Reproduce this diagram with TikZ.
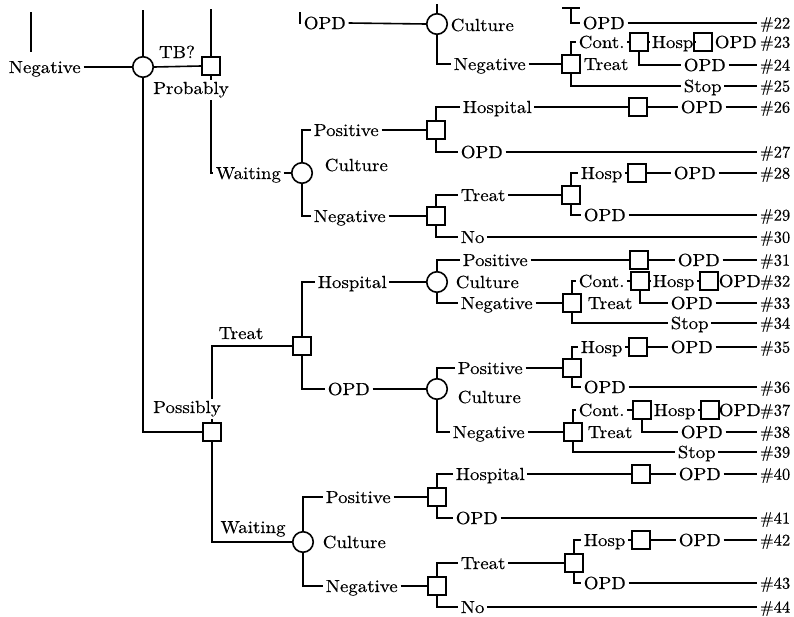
\documentclass[tikz,border=0pt]{standalone}
\usepackage{fontspec}
\newfontfamily\lblfam{lmroman10-regular}[Extension=.otf, FakeStretch=1.08, FakeBold=0.4]
\newfontfamily\numfam{lmroman10-regular}[Extension=.otf, FakeBold=0.4]
\newcommand\lblf{\lblfam\fontsize{17.5}{20}\selectfont}
\newcommand\numf{\numfam\fontsize{16.5}{20}\selectfont}
\tikzset{
 dec/.style={draw, rectangle, minimum size=18pt, inner sep=0pt, fill=white},
 chn/.style={draw, circle, minimum size=20.5pt, inner sep=0pt, fill=white},
 lbl/.style={inner xsep=2pt, inner ysep=1pt, text height=12pt, text depth=0pt, font=\lblf},
 lw/.style={lbl, anchor=west},
 nw/.style={lbl, font=\numf, anchor=east, text height=11.3pt},
 cover/.style={lbl, fill=white, text depth=4pt, inner ysep=2pt},
}
\begin{document}
\begin{tikzpicture}[x=1pt,y=-1pt,line width=1.6pt]
\useasboundingbox (0,0) rectangle (794,616);
% ---------- left part
\coordinate (t0a) at (30.7,12); \coordinate (t0b) at (30.7,52);
\node[lw] (negA) at (6,67) {Negative};
\node[chn] (c0) at (143,67) {};
\coordinate (c0top) at (143,10);
\node[dec] (bProb) at (211,66) {};
\coordinate (bProbtop) at (211,9);
\node[lbl] (tb) at (177,52) {TB?};
\node[lw] (waitW1) at (213,173) {Waiting};
\node[chn] (cW1) at (302,173) {};
\node[lw] (posW1) at (311,130) {Positive};
\node[lw] (culW1) at (322,165) {Culture};
\node[lw] (negW1) at (311,216) {Negative};
\node[dec] (bW1p) at (436,130) {};
\node[dec] (bW1n) at (436,216) {};
\node[lw] (hospW1) at (460,107) {Hospital};
\node[lw] (opdW1) at (458,152) {OPD};
\node[dec] (b26) at (638,107) {};
\node[lw] (opd26) at (678,107) {OPD};
\node[nw] (n26) at (793,107) {\#26};
\node[nw] (n27) at (793,152) {\#27};
\node[lw] (treatW1) at (458,195) {Treat};
\node[lw] (noW1) at (458,237) {No};
\node[dec] (b28a) at (571,195) {};
\node[lw] (hosp28) at (578,173) {Hosp};
\node[dec] (b28) at (637,173) {};
\node[lw] (opd28) at (671,173) {OPD};
\node[nw] (n28) at (793,173) {\#28};
\node[lw] (opd29) at (581,215) {OPD};
\node[nw] (n29) at (793,215) {\#29};
\node[nw] (n30) at (793,237) {\#30};
% ---------- top part
\coordinate (Ltop) at (300,12);
\node[lw] (opdT) at (301,23) {OPD};
\node[chn] (cT) at (437,24) {};
\coordinate (cTtop) at (437,4);
\node[lw] (culT) at (448,25) {Culture};
\node[lw] (negT) at (451,64) {Negative};
\node[dec] (b23a) at (571,64) {};
\node[lw] (tr23) at (581,64) {Treat};
\node[lw] (cont23) at (576,42) {Cont.};
\node[dec] (b23b) at (639,42) {};
\node[lw] (hosp23) at (649,42) {Hosp};
\node[dec] (b23c) at (703,42) {};
\node[lw] (opd23) at (712,42) {OPD};
\node[nw] (n23) at (793,42) {\#23};
\node[lw] (opd24) at (681,65) {OPD};
\node[nw] (n24) at (793,65) {\#24};
\node[lw] (stop25) at (681,86) {Stop};
\node[nw] (n25) at (793,86) {\#25};
\coordinate (tbarL) at (562,8); \coordinate (tbarR) at (580,8); \coordinate (tbarM) at (571,8);
\node[lw] (opd22) at (580,23) {OPD};
\node[nw] (n22) at (793,23) {\#22};
% ---------- possibly part
\node[dec] (bPoss) at (212,432) {};
\node[dec] (bTr) at (302,346) {};
\node[lbl] (trP) at (241,333) {Treat};
\node[lw] (hospP) at (315,282) {Hospital};
\node[lw] (opdP) at (325,389) {OPD};
\node[chn] (cA) at (437,282) {};
\node[chn] (cB) at (437,389) {};
\node[lw] (pos31) at (460,260) {Positive};
\node[dec] (b31) at (639,260) {};
\node[lw] (opd31) at (675,260) {OPD};
\node[nw] (n31) at (793,260) {\#31};
\node[lw] (culA) at (453,282) {Culture};
\node[lw] (neg32) at (458,303) {Negative};
\node[dec] (b32a) at (572,303) {};
\node[lw] (tr32) at (585,303) {Treat};
\node[lw] (cont32) at (576,281) {Cont.};
\node[dec] (b32b) at (640,281) {};
\node[lw] (hosp32) at (650,281) {Hosp};
\node[dec] (b32c) at (709,281) {};
\node[lw] (opd32) at (716,281) {OPD};
\node[nw] (n32) at (793,281) {\#32};
\node[lw] (opd33) at (668,303) {OPD};
\node[nw] (n33) at (793,303) {\#33};
\node[lw] (stop34) at (668,323) {Stop};
\node[nw] (n34) at (793,323) {\#34};
\node[lw] (pos36) at (455,368) {Positive};
\node[dec] (b35a) at (572,368) {};
\node[lw] (hosp35) at (578,347) {Hosp};
\node[dec] (b35) at (638,347) {};
\node[lw] (opd35) at (668,347) {OPD};
\node[nw] (n35) at (793,347) {\#35};
\node[lw] (opd36) at (581,387) {OPD};
\node[nw] (n36) at (793,387) {\#36};
\node[lw] (culB) at (455,397) {Culture};
\node[lw] (neg37) at (450,432) {Negative};
\node[dec] (b37a) at (573,432) {};
\node[lw] (tr37) at (585,432) {Treat};
\node[lw] (cont37) at (576,410) {Cont.};
\node[dec] (b37b) at (642,410) {};
\node[lw] (hosp37) at (651,410) {Hosp};
\node[dec] (b37c) at (710,410) {};
\node[lw] (opd37) at (716,410) {OPD};
\node[nw] (n37) at (793,410) {\#37};
\node[lw] (opd38) at (678,432) {OPD};
\node[nw] (n38) at (793,432) {\#38};
\node[lw] (stop39) at (675,452) {Stop};
\node[nw] (n39) at (793,452) {\#39};
% ---------- waiting (possibly)
\node[chn] (cW2) at (303,542) {};
\node[lbl] (waitW2) at (253,527) {Waiting};
\node[lw] (pos2) at (323,497) {Positive};
\node[lw] (cul2) at (320,542) {Culture};
\node[lw] (neg2) at (323,586) {Negative};
\node[dec] (b2p) at (437,497) {};
\node[dec] (b2n) at (437,586) {};
\node[lw] (hosp40) at (453,474) {Hospital};
\node[dec] (b40) at (641,474) {};
\node[lw] (opd40) at (676,474) {OPD};
\node[nw] (n40) at (793,474) {\#40};
\node[lw] (opd41) at (453,518) {OPD};
\node[nw] (n41) at (793,518) {\#41};
\node[lw] (treat2) at (458,563) {Treat};
\node[lw] (no2) at (458,607) {No};
\node[dec] (b42a) at (574,563) {};
\node[lw] (hosp42) at (581,540) {Hosp};
\node[dec] (b42) at (641,540) {};
\node[lw] (opd42) at (676,540) {OPD};
\node[nw] (n42) at (793,540) {\#42};
\node[lw] (opd43) at (581,583) {OPD};
\node[nw] (n43) at (793,583) {\#43};
\node[nw] (n44) at (793,607) {\#44};
% ---------- connectors
\draw (t0a) -- (t0b);
\draw (negA.east) -- (c0.west);
\draw (c0top) -- (c0.north);
\draw (c0.east) -- (bProb.west);
\draw (bProbtop) -- (bProb.north);
\draw (bProb.south) |- (waitW1.west);
\draw (waitW1.east) -- (cW1.west);
\draw (cW1.north) |- (posW1.west);
\draw (cW1.south) |- (negW1.west);
\draw (posW1.east) -- (bW1p.west);
\draw (negW1.east) -- (bW1n.west);
\draw (bW1p.north) |- (hospW1.west);
\draw (bW1p.south) |- (opdW1.west);
\draw (hospW1.east) -- (b26.west);
\draw (b26.east) -- (opd26.west);
\draw (opd26.east) -- (n26.west);
\draw (opdW1.east) -- (n27.west);
\draw (bW1n.north) |- (treatW1.west);
\draw (bW1n.south) |- (noW1.west);
\draw (treatW1.east) -- (b28a.west);
\draw (b28a.north) |- (hosp28.west);
\draw (hosp28.east) -- (b28.west);
\draw (b28.east) -- (opd28.west);
\draw (opd28.east) -- (n28.west);
\draw (b28a.south) |- (opd29.west);
\draw (opd29.east) -- (n29.west);
\draw (noW1.east) -- (n30.west);
\draw (Ltop) |- (opdT.west);
\draw (opdT.east) -- (cT.west);
\draw (cTtop) -- (cT.north);
\draw (cT.south) |- (negT.west);
\draw (negT.east) -- (b23a.west);
\draw (b23a.north) |- (cont23.west);
\draw (cont23.east) -- (b23b.west);
\draw (b23b.east) -- (hosp23.west);
\draw (hosp23.east) -- (b23c.west);
\draw (b23c.east) -- (opd23.west);
\draw (b23b.south) |- (opd24.west);
\draw (opd24.east) -- (n24.west);
\draw (b23a.south) |- (stop25.west);
\draw (stop25.east) -- (n25.west);
\draw (tbarL) -- (tbarR);
\draw (tbarM) |- (opd22.west);
\draw (opd22.east) -- (n22.west);
\draw (c0.south) |- (bPoss.west);
\draw (bPoss.north) |- (bTr.west);
\draw (bPoss.south) |- (cW2.west);
\draw (bTr.north) |- (hospP.west);
\draw (bTr.south) |- (opdP.west);
\draw (hospP.east) -- (cA.west);
\draw (opdP.east) -- (cB.west);
\draw (cA.north) |- (pos31.west);
\draw (pos31.east) -- (b31.west);
\draw (b31.east) -- (opd31.west);
\draw (opd31.east) -- (n31.west);
\draw (cA.south) |- (neg32.west);
\draw (neg32.east) -- (b32a.west);
\draw (b32a.north) |- (cont32.west);
\draw (cont32.east) -- (b32b.west);
\draw (b32b.east) -- (hosp32.west);
\draw (hosp32.east) -- (b32c.west);
\draw (b32b.south) |- (opd33.west);
\draw (opd33.east) -- (n33.west);
\draw (b32a.south) |- (stop34.west);
\draw (stop34.east) -- (n34.west);
\draw (cB.north) |- (pos36.west);
\draw (pos36.east) -- (b35a.west);
\draw (b35a.north) |- (hosp35.west);
\draw (hosp35.east) -- (b35.west);
\draw (b35.east) -- (opd35.west);
\draw (opd35.east) -- (n35.west);
\draw (b35a.south) |- (opd36.west);
\draw (opd36.east) -- (n36.west);
\draw (cB.south) |- (neg37.west);
\draw (neg37.east) -- (b37a.west);
\draw (b37a.north) |- (cont37.west);
\draw (cont37.east) -- (b37b.west);
\draw (b37b.east) -- (hosp37.west);
\draw (hosp37.east) -- (b37c.west);
\draw (b37b.south) |- (opd38.west);
\draw (opd38.east) -- (n38.west);
\draw (b37a.south) |- (stop39.west);
\draw (stop39.east) -- (n39.west);
\draw (cW2.north) |- (pos2.west);
\draw (cW2.south) |- (neg2.west);
\draw (pos2.east) -- (b2p.west);
\draw (neg2.east) -- (b2n.west);
\draw (b2p.north) |- (hosp40.west);
\draw (hosp40.east) -- (b40.west);
\draw (b40.east) -- (opd40.west);
\draw (opd40.east) -- (n40.west);
\draw (b2p.south) |- (opd41.west);
\draw (opd41.east) -- (n41.west);
\draw (b2n.north) |- (treat2.west);
\draw (b2n.south) |- (no2.west);
\draw (treat2.east) -- (b42a.west);
\draw (b42a.north) |- (hosp42.west);
\draw (hosp42.east) -- (b42.west);
\draw (b42.east) -- (opd42.west);
\draw (opd42.east) -- (n42.west);
\draw (b42a.south) |- (opd43.west);
\draw (opd43.east) -- (n43.west);
\draw (no2.east) -- (n44.west);
% labels laid over vertical lines
\node[cover] (prob) at (191,90) {Probably};
\node[cover] (poss) at (187,409) {Possibly};
\end{tikzpicture}
\end{document}
